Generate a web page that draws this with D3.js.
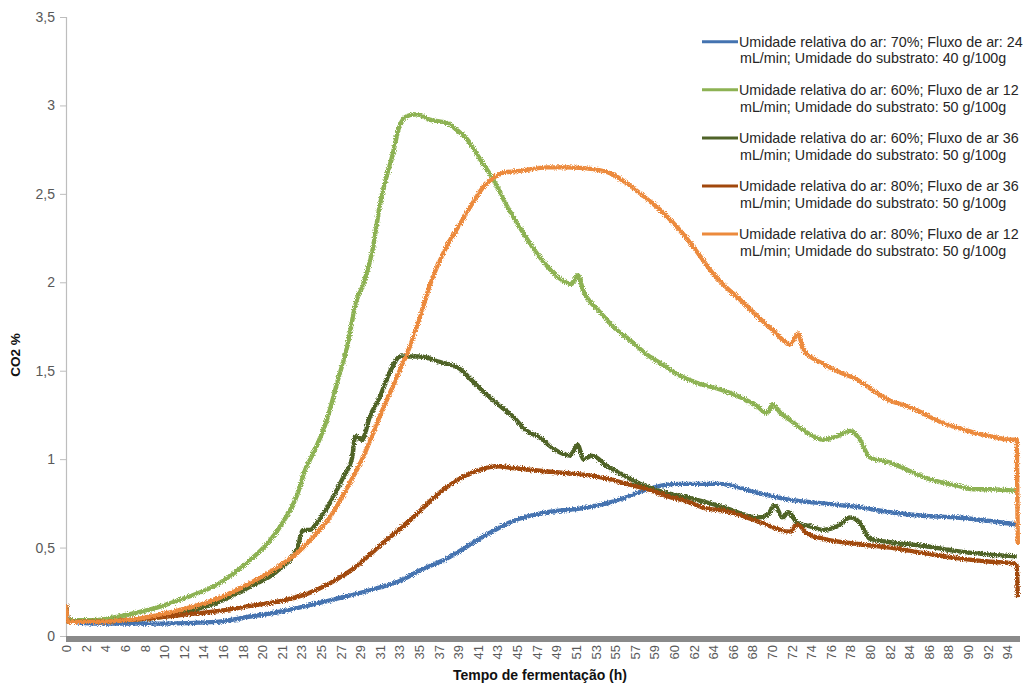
<!DOCTYPE html>
<html>
<head>
<meta charset="utf-8">
<script src="https://cdn.jsdelivr.net/npm/d3@7/dist/d3.min.js"></script>
<style>
  html, body { margin: 0; padding: 0; background: #fff; }
  svg { display: block; }
  text { font-family: "Liberation Sans", Arial, sans-serif; }
</style>
</head>
<body>
<svg id="chart" width="1030" height="685"></svg>
<script>
// Category labels shown under the time axis (h)
const hourTicks = [0,2,4,6,8,10,12,14,16,18,20,21,23,25,27,29,31,33,35,37,39,41,43,45,47,49,51,53,55,57,59,60,62,64,66,68,70,72,74,76,78,80,82,84,86,88,90,92,94];
const co2Ticks = [0, 0.5, 1, 1.5, 2, 2.5, 3, 3.5];

const seriesNames = [
  ["Umidade relativa do ar: 70%; Fluxo de ar: 24", "mL/min; Umidade do substrato: 40 g/100g"],
  ["Umidade relativa do ar: 60%; Fluxo de ar 12", "mL/min; Umidade do substrato: 50 g/100g"],
  ["Umidade relativa do ar: 60%; Fluxo de ar 36", "mL/min; Umidade do substrato: 50 g/100g"],
  ["Umidade relativa do ar: 80%; Fluxo de ar 36", "mL/min; Umidade do substrato: 50 g/100g"],
  ["Umidade relativa do ar: 80%; Fluxo de ar 12", "mL/min; Umidade do substrato: 50 g/100g"]
];
const seriesColors = ["#4473B0", "#8DB253", "#4F6328", "#A1480C", "#EC8A3C"];

// [hour, CO2 %]
const rh70_f24 = [[0,0.18],[0.2,0.09],[2.8,0.07],[9.6,0.07],[15.4,0.08],[18.8,0.11],[21.1,0.14],[23.9,0.175],[27.3,0.22],[30.7,0.27],[33.0,0.31],[35.1,0.37],[37.9,0.44],[41.2,0.55],[44.6,0.65],[48.1,0.70],[51.4,0.72],[54.8,0.76],[56.9,0.80],[58.3,0.83],[60.7,0.86],[62.7,0.86],[64.7,0.86],[68.5,0.81],[71.9,0.77],[75.2,0.75],[78.7,0.73],[82.1,0.70],[85.4,0.68],[88.9,0.67],[92.3,0.65],[95.1,0.63]];

const rh60_f12 = [[0,0.17],[0.2,0.09],[2.8,0.09],[6.2,0.12],[8.6,0.15],[11.9,0.21],[15.4,0.29],[18.8,0.43],[20.25,0.52],[21.1,0.64],[22.6,0.80],[23.4,0.94],[24.2,1.03],[25.6,1.22],[26.7,1.44],[27.7,1.64],[28.6,1.89],[29.2,1.97],[30.3,2.19],[31.0,2.43],[32.4,2.74],[33.0,2.88],[33.8,2.94],[34.8,2.95],[36.1,2.92],[37.9,2.90],[38.9,2.86],[39.9,2.81],[41.2,2.70],[42.6,2.58],[44.0,2.43],[45.3,2.31],[46.7,2.19],[48.1,2.09],[49.4,2.02],[50.6,1.99],[51.2,2.04],[51.8,1.95],[52.2,1.91],[53.5,1.83],[54.8,1.75],[56.6,1.67],[58.3,1.59],[59.5,1.53],[60.7,1.47],[62.4,1.43],[64.4,1.40],[66.8,1.35],[68.5,1.30],[69.5,1.26],[70.1,1.31],[70.9,1.26],[71.9,1.22],[73.6,1.15],[75.2,1.11],[76.7,1.13],[78.0,1.16],[79.0,1.11],[80.0,1.01],[82.1,0.98],[83.8,0.94],[85.4,0.90],[87.2,0.87],[88.9,0.85],[90.6,0.83],[92.3,0.83],[95.0,0.82]];

const rh60_f36 = [[0,0.17],[0.2,0.08],[2.8,0.08],[6.2,0.09],[8.6,0.10],[11.9,0.13],[15.4,0.19],[18.8,0.28],[20.8,0.37],[22.6,0.50],[23.2,0.60],[23.9,0.60],[24.6,0.64],[25.9,0.75],[27.3,0.90],[28.2,1.01],[28.5,1.13],[29.2,1.11],[30.0,1.24],[31.0,1.35],[32.1,1.50],[33.1,1.58],[34.4,1.58],[35.1,1.58],[37.1,1.55],[39.2,1.51],[40.5,1.44],[42.0,1.36],[43.3,1.30],[44.6,1.24],[46.0,1.16],[47.4,1.12],[48.7,1.06],[50.4,1.02],[51.2,1.08],[51.8,1.00],[52.7,1.02],[54.2,0.96],[55.5,0.92],[57.6,0.86],[59.3,0.82],[61.7,0.78],[65.0,0.73],[68.5,0.67],[69.5,0.68],[70.3,0.74],[71.1,0.67],[71.7,0.70],[72.6,0.64],[73.9,0.62],[75.2,0.60],[76.7,0.62],[78.0,0.67],[79.0,0.64],[80.0,0.55],[82.1,0.53],[85.4,0.51],[88.9,0.48],[92.3,0.46],[95.0,0.45]];

const rh80_f36 = [[0,0.17],[0.2,0.08],[2.8,0.08],[8.6,0.10],[11.9,0.12],[15.4,0.14],[18.8,0.17],[21.1,0.20],[23.9,0.245],[26.0,0.30],[28.3,0.38],[31.0,0.51],[34.4,0.67],[37.1,0.81],[39.5,0.90],[41.2,0.94],[43.0,0.96],[44.6,0.95],[46.3,0.94],[48.1,0.93],[50.1,0.92],[52.2,0.91],[54.2,0.89],[56.2,0.86],[58.3,0.83],[59.7,0.79],[61.4,0.76],[63.4,0.72],[65.0,0.71],[68.5,0.65],[71.9,0.59],[72.6,0.63],[73.6,0.58],[75.2,0.55],[78.7,0.52],[82.1,0.50],[85.4,0.47],[88.9,0.44],[92.3,0.42],[94.6,0.41],[95.0,0.40],[95.1,0.22]];

const rh80_f12 = [[0,0.18],[0.2,0.08],[2.8,0.08],[6.2,0.09],[8.6,0.11],[11.9,0.15],[15.4,0.21],[18.8,0.30],[20.8,0.39],[22.6,0.47],[24.2,0.56],[25.9,0.67],[27.7,0.84],[29.3,1.01],[31.0,1.24],[32.8,1.47],[34.1,1.64],[35.1,1.80],[36.1,1.98],[37.9,2.21],[39.2,2.33],[40.5,2.45],[41.6,2.54],[42.6,2.59],[43.6,2.62],[45.3,2.63],[48.1,2.65],[50.1,2.65],[52.8,2.64],[54.8,2.61],[56.2,2.56],[58.3,2.47],[59.5,2.39],[60.7,2.29],[62.4,2.17],[64.0,2.05],[65.0,1.99],[66.8,1.90],[68.5,1.81],[70.1,1.73],[71.9,1.65],[72.7,1.71],[73.2,1.62],[75.2,1.54],[77.0,1.49],[78.7,1.45],[80.3,1.39],[82.1,1.33],[83.8,1.30],[85.4,1.26],[87.2,1.21],[88.9,1.18],[90.6,1.15],[92.3,1.13],[94.3,1.11],[95.0,1.11],[95.1,0.52]];

const seriesData = [rh70_f24, rh60_f12, rh60_f36, rh80_f36, rh80_f12];

const svg = d3.select("#chart");
const plotLeft = 66, plotRight = 1020, plotTop = 17, plotBottom = 636;
const step = 941 / 48; // distance between neighbouring category labels

// Category axis: labels sit at even spacing, hours between them are linear
const x = d3.scaleLinear()
  .domain([0, 20, 21, 59, 60, 96])
  .range([0, 10, 11, 30, 31, 49].map(i => plotLeft + i * step));
const y = d3.scaleLinear().domain([0, 3.5]).range([plotBottom, plotTop]);

// Grainy texture on the measured traces
const defs = svg.append("defs");
const f = defs.append("filter").attr("id", "grain")
  .attr("filterUnits", "userSpaceOnUse")
  .attr("x", 0).attr("y", 0).attr("width", 1030).attr("height", 685);
f.append("feTurbulence").attr("type", "fractalNoise").attr("baseFrequency", "1.1 0.9")
  .attr("numOctaves", 2).attr("seed", 7).attr("result", "noise");
f.append("feDisplacementMap").attr("in", "SourceGraphic").attr("in2", "noise")
  .attr("scale", 4.5).attr("xChannelSelector", "R").attr("yChannelSelector", "G");
defs.append("clipPath").attr("id", "plot")
  .append("rect").attr("x", plotLeft).attr("y", plotTop - 5)
  .attr("width", plotRight - plotLeft + 1).attr("height", plotBottom - plotTop + 5);

// Y axis
const yAxis = svg.append("g").attr("transform", `translate(${plotLeft},0)`)
  .call(d3.axisLeft(y).tickValues(co2Ticks).tickSize(6).tickPadding(5)
    .tickFormat(d => String(d).replace(".", ",")));
yAxis.select(".domain").attr("stroke", "#BDBDBD").attr("stroke-width", 1.2);
yAxis.selectAll(".tick line").attr("stroke", "#BDBDBD");
yAxis.selectAll(".tick text").attr("fill", "#595959").style("font-size", "14px")
  .style("font-family", "'Liberation Sans', Arial, sans-serif");

// Lines
const line = d3.line().x(d => x(d[0])).y(d => y(d[1])).curve(d3.curveMonotoneX);
const lines = svg.append("g").attr("clip-path", "url(#plot)");
seriesData.forEach((data, i) => {
  lines.append("path")
    .datum(data)
    .attr("d", line)
    .attr("fill", "none")
    .attr("stroke", seriesColors[i])
    .attr("stroke-width", 4.4)
    .attr("stroke-linejoin", "round")
    .attr("filter", "url(#grain)");
});

// X axis (thick grey base line with rotated category labels)
const xAxis = svg.append("g").attr("transform", `translate(0,${plotBottom + 3})`)
  .call(d3.axisBottom(x).tickValues(hourTicks).tickSize(0).tickSizeOuter(0));
xAxis.select(".domain").attr("stroke", "#8A8A8A").attr("stroke-width", 6)
  .attr("d", `M${plotLeft},0H${plotRight}`);
xAxis.selectAll(".tick text")
  .attr("fill", "#595959").style("font-size", "13px")
  .style("font-family", "'Liberation Sans', Arial, sans-serif")
  .attr("text-anchor", "end")
  .attr("transform", "translate(0,6) rotate(-90)")
  .attr("x", 0).attr("y", 0).attr("dy", "0.36em");

// Axis titles
svg.append("text").attr("x", 540).attr("y", 680).attr("text-anchor", "middle")
  .style("font-size", "14px").style("font-weight", "bold").attr("fill", "#111")
  .text("Tempo de fermentação (h)");
svg.append("text").attr("transform", "translate(20,355) rotate(-90)")
  .attr("text-anchor", "middle")
  .style("font-size", "13.5px").style("font-weight", "bold").attr("fill", "#111")
  .text("CO2 %");

// Legend
const legend = svg.append("g");
seriesNames.forEach((rows, i) => {
  const cy = 41.7 + i * 48.1;
  legend.append("line").attr("x1", 702).attr("x2", 738).attr("y1", cy).attr("y2", cy)
    .attr("stroke", seriesColors[i]).attr("stroke-width", 3);
  rows.forEach((r, j) => {
    legend.append("text").attr("class", "lg")
      .attr("x", j === 0 ? 739 : 740).attr("y", cy + j * 16.7).attr("dy", "0.35em")
      .attr("fill", "#262626").style("font-size", "13px").text(r);
  });
});
// fit legend lettering into its column
const first = legend.select("text.lg").node();
const w = first.getComputedTextLength();
const fs = 13 * 284 / w;
legend.selectAll("text.lg").style("font-size", fs.toFixed(2) + "px");
</script>
</body>
</html>
